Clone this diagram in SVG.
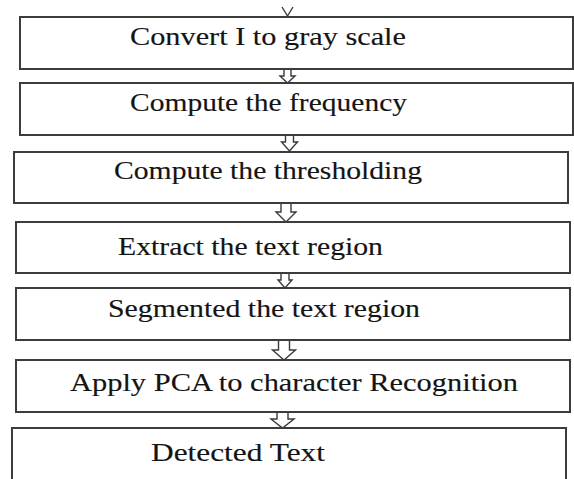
<svg xmlns="http://www.w3.org/2000/svg" width="574" height="479" viewBox="0 0 574 479">
  <style>
    .box { fill: #ffffff; stroke: #3c3c3c; stroke-width: 2; }
    .lbl { font-family: "Liberation Serif", "Times New Roman", serif; font-size: 26px; fill: #141414; stroke: #141414; stroke-width: 0.15; }
    .arr { fill: #ffffff; stroke: #3a3a3a; stroke-width: 1.4; stroke-linejoin: miter; }
  </style>
  <rect x="0" y="0" width="574" height="479" fill="#ffffff"/>

  <!-- flow arrows -->
  <g id="connectors">
    <polyline class="arr" points="282,7 287.5,16 293,7" fill="none"/>
    <polygon class="arr" points="284,69 291,69 291,76 295,76 287.5,83 280,76 284,76"/>
    <polygon class="arr" points="285.5,135 293.5,135 293.5,142 297.5,142 289.5,151 281.5,142 285.5,142"/>
    <polygon class="arr" points="281,203 291,203 291,212 296,212 286,222 276,212 281,212"/>
    <polygon class="arr" points="281,273 289,273 289,280 292,280 285,288 278,280 281,280"/>
    <polygon class="arr" points="278.5,340 289.5,340 289.5,350 295.5,350 284,360 272.5,350 278.5,350"/>
    <polygon class="arr" points="277,412 288,412 288,419 294,419 282.5,428 271,419 277,419"/>
  </g>

  <g id="n1">
    <rect class="box" x="20" y="17" width="553" height="52"/>
    <text class="lbl" x="130" y="45" textLength="276" lengthAdjust="spacingAndGlyphs">Convert I to gray scale</text>
  </g>
  <g id="n2">
    <rect class="box" x="20" y="83" width="553" height="52"/>
    <text class="lbl" x="130" y="111" textLength="277" lengthAdjust="spacingAndGlyphs">Compute the frequency</text>
  </g>
  <g id="n3">
    <rect class="box" x="14" y="152" width="554" height="51"/>
    <text class="lbl" x="114" y="179" textLength="308" lengthAdjust="spacingAndGlyphs">Compute the thresholding</text>
  </g>
  <g id="n4">
    <rect class="box" x="16" y="222" width="554" height="51"/>
    <text class="lbl" x="118" y="255" textLength="265" lengthAdjust="spacingAndGlyphs">Extract the text region</text>
  </g>
  <g id="n5">
    <rect class="box" x="16" y="288" width="554" height="52"/>
    <text class="lbl" x="108" y="317" textLength="312" lengthAdjust="spacingAndGlyphs">Segmented the text region</text>
  </g>
  <g id="n6">
    <rect class="box" x="16" y="360" width="554" height="52"/>
    <text class="lbl" x="70" y="391" textLength="448" lengthAdjust="spacingAndGlyphs">Apply PCA to character Recognition</text>
  </g>
  <g id="n7">
    <rect class="box" x="12" y="428" width="554" height="70"/>
    <text class="lbl" x="151" y="461" textLength="174" lengthAdjust="spacingAndGlyphs">Detected Text</text>
  </g>
</svg>
